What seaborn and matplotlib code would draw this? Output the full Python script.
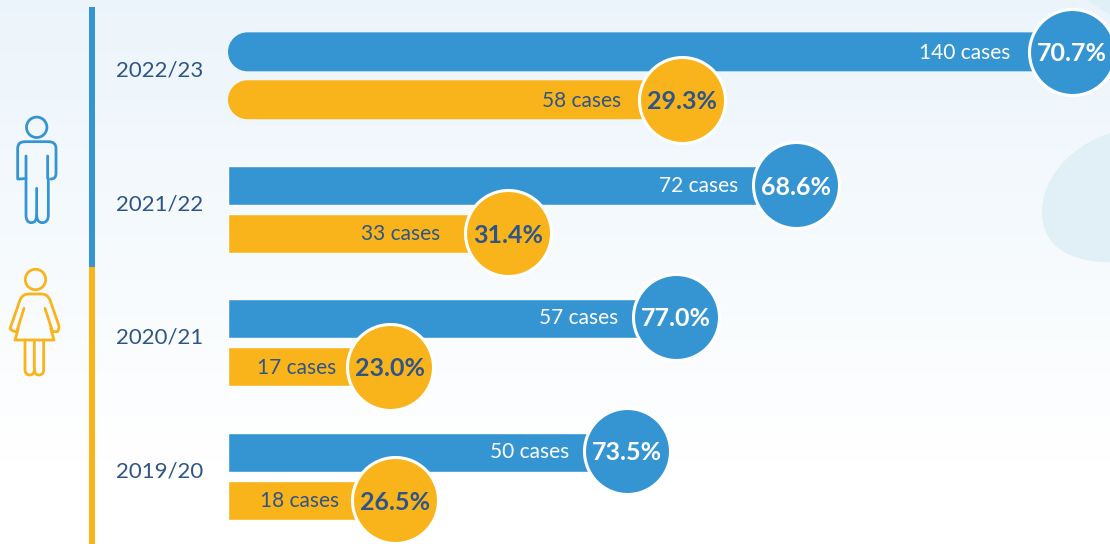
import numpy as np
import pandas as pd
import matplotlib
matplotlib.use("Agg")
import matplotlib.pyplot as plt
import seaborn as sns
from matplotlib.patches import PathPatch, Circle, Rectangle
from matplotlib.path import Path
from matplotlib.transforms import ScaledTranslation

# --- data ---
years = ["2022/23", "2021/22", "2020/21", "2019/20"]
male_cases = [140, 72, 57, 50]
female_cases = [58, 33, 17, 18]
male_pct = ["70.7%", "68.6%", "77.0%", "73.5%"]
female_pct = ["29.3%", "31.4%", "23.0%", "26.5%"]
# the drawn bar lengths are not proportional to the counts in the reference
male_length = [844, 568, 448, 399]
female_length = [454, 280, 162, 167]

BLUE = "#3595d3"
YELLOW = "#f9b41c"
DARK = "#2f5587"

sns.set_theme(style="white")
plt.rcParams["font.family"] = ["Lato", "DejaVu Sans"]
PX = 72 / 100  # points per pixel

fig = plt.figure(figsize=(11.1, 5.44), dpi=100)

# decoration layer in picture pixels
deco = fig.add_axes([0, 0, 1, 1], zorder=0)
deco.axis("off")
grad = np.linspace(0, 1, 256).reshape(-1, 1)
top, bottom = np.array([0.925, 0.96, 0.985]), np.array([1.0, 1.0, 1.0])
stop = np.clip(grad / 0.85, 0, 1)[..., None]
img = top[None, None, :] * (1 - stop) + bottom[None, None, :] * stop
deco.imshow(img, extent=(0, 1110, 544, 0), aspect="auto", zorder=0)
deco.set_xlim(0, 1110)
deco.set_ylim(544, 0)

C3, C4, M, L = Path.CURVE3, Path.CURVE4, Path.MOVETO, Path.LINETO
blob = Path([(1125, 130), (1085, 135), (1042, 170), (1042, 212), (1042, 250), (1075, 265),
             (1125, 262), (1125, 130)], [M, C4, C4, C4, C4, C4, C4, L])
deco.add_patch(PathPatch(blob, fc="#e1eff7", ec="none", zorder=1))
blob2 = Path([(1088, 0), (1095, 6), (1105, 12), (1115, 16), (1115, 0), (1088, 0)],
             [M, C3, C3, L, L, L])
deco.add_patch(PathPatch(blob2, fc="#e1eff7", ec="none", zorder=1))

deco.add_patch(Rectangle((89, 7), 6, 260, fc=BLUE, ec="none", zorder=2))
deco.add_patch(Rectangle((89, 267), 6, 277, fc=YELLOW, ec="none", zorder=2))


def icon(segments, color):
    for pts, codes in segments:
        p = Path(np.array(pts) / 3.0, codes)
        deco.add_patch(PathPatch(p, fc="none", ec=color, lw=2.0, capstyle="round",
                                 joinstyle="round", zorder=3))


man = [
    ([(78, 468), (78, 535), (68, 537), (53, 537), (53, 520), (53, 445), (53, 425), (75, 425),
      (145, 425), (168, 425), (168, 445), (168, 520), (168, 537), (153, 537), (143, 535), (143, 468)],
     [M, L, C3, C3, L, L, C3, C3, L, C3, C3, L, C3, C3, M, L]),
    ([(78, 535), (78, 645), (78, 668), (94, 668), (110, 668), (110, 645), (110, 565)],
     [M, L, C3, C3, C3, C3, L]),
    ([(110, 645), (110, 668), (127, 668), (145, 668), (145, 645), (145, 535)],
     [M, C3, C3, C3, C3, L]),
]
woman = [
    ([(72, 925), (50, 995), (36, 995), (30, 985), (35, 972), (60, 900), (68, 882), (85, 882),
      (125, 882), (142, 882), (150, 900), (175, 972), (180, 985), (172, 995), (158, 995), (135, 925)],
     [M, L, C3, C3, L, L, C3, C3, L, C3, C3, L, C3, C3, L, L]),
    ([(55, 985), (45, 1020), (162, 1020), (152, 985)], [M, L, L, L]),
    ([(75, 1020), (75, 1108), (75, 1125), (89, 1125), (103, 1125), (103, 1108), (103, 1020)],
     [M, L, C3, C3, C3, C3, L]),
    ([(103, 1108), (103, 1125), (117, 1125), (131, 1125), (131, 1108), (131, 1020)],
     [M, C3, C3, C3, C3, L]),
]
icon(man, BLUE)
icon(woman, YELLOW)
deco.add_patch(Circle((36.7, 127.3), 10.2, fc="none", ec=BLUE, lw=2.0, zorder=3))
deco.add_patch(Circle((35.5, 279.5), 10.2, fc="none", ec=YELLOW, lw=2.0, zorder=3))

# chart layer: x unit = one pixel of drawn length, one category = y_px pixels
y_px = 133.5
y0_px = 75.8
ax = fig.add_axes([0, 0, 1, 1], zorder=1)
ax.patch.set_alpha(0)

df = pd.DataFrame({
    "year": years * 2,
    "sex": ["Male"] * 4 + ["Female"] * 4,
    "length": male_length + female_length,
})
sns.barplot(data=df, y="year", x="length", hue="sex", order=years, hue_order=["Male", "Female"],
            palette={"Male": BLUE, "Female": YELLOW}, saturation=1, width=0.718, gap=0.187,
            legend=False, ax=ax, zorder=2)
ax.set_xlim(-228, 882)
ax.set_ylim((544 - y0_px) / y_px, -y0_px / y_px)
ax.set_xlabel("")
ax.set_ylabel("")
ax.set_xticks([])
sns.despine(ax=ax, left=True, bottom=True)
ax.tick_params(axis="y", left=False, pad=-212 * PX, labelsize=16, labelcolor=DARK)
shift = ScaledTranslation(0, 7 / 100, fig.dpi_scale_trans)
for lab in ax.get_yticklabels():
    lab.set_transform(lab.get_transform() + shift)

K = 0.5523
for container, colour, cases, pct, txt, nudge, gap in [
    (ax.containers[0], BLUE, male_cases, male_pct, "white", [0, 0, -2, -1.5], [62, 58, 58, 58]),
    (ax.containers[1], YELLOW, female_cases, female_pct, DARK, [0, 0, 0, 0], [61, 68, 54, 56]),
]:
    for i, bar in enumerate(container.patches):
        end = bar.get_width()
        yc = bar.get_y() + bar.get_height() / 2 + nudge[i] / y_px
        if i == 0:  # only the latest season has a rounded bar end
            h = bar.get_height()
            y1, y2 = bar.get_y(), bar.get_y() + h
            r = h * y_px / 2
            ym = (y1 + y2) / 2
            x0 = bar.get_x()
            verts = [(end, y1), (x0 + r, y1), (x0 + r - K * r, y1), (x0, ym - K * h / 2), (x0, ym),
                     (x0, ym + K * h / 2), (x0 + r - K * r, y2), (x0 + r, y2), (end, y2), (end, y1)]
            codes = [M, L, C4, C4, C4, C4, C4, C4, L, L]
            bar.set_visible(False)
            ax.add_patch(PathPatch(Path(verts, codes), fc=colour, ec="none", zorder=2))
        ax.scatter([end], [yc], s=(86 * PX) ** 2, color=colour, edgecolor="white",
                   linewidth=2.2, zorder=4, clip_on=False)
        ax.annotate(f"{cases[i]} cases", (end, yc), xytext=(-gap[i] * PX, -1 * PX), textcoords="offset points",
                    ha="right", va="center", color=txt, fontsize=15, zorder=5)
        ax.annotate(pct[i], (end, yc), xytext=(0, -2 * PX), textcoords="offset points",
                    ha="center", va="center", color=txt,
                    fontsize=18, fontweight="bold", zorder=5, annotation_clip=False)

fig.savefig("out.png", dpi=100)
